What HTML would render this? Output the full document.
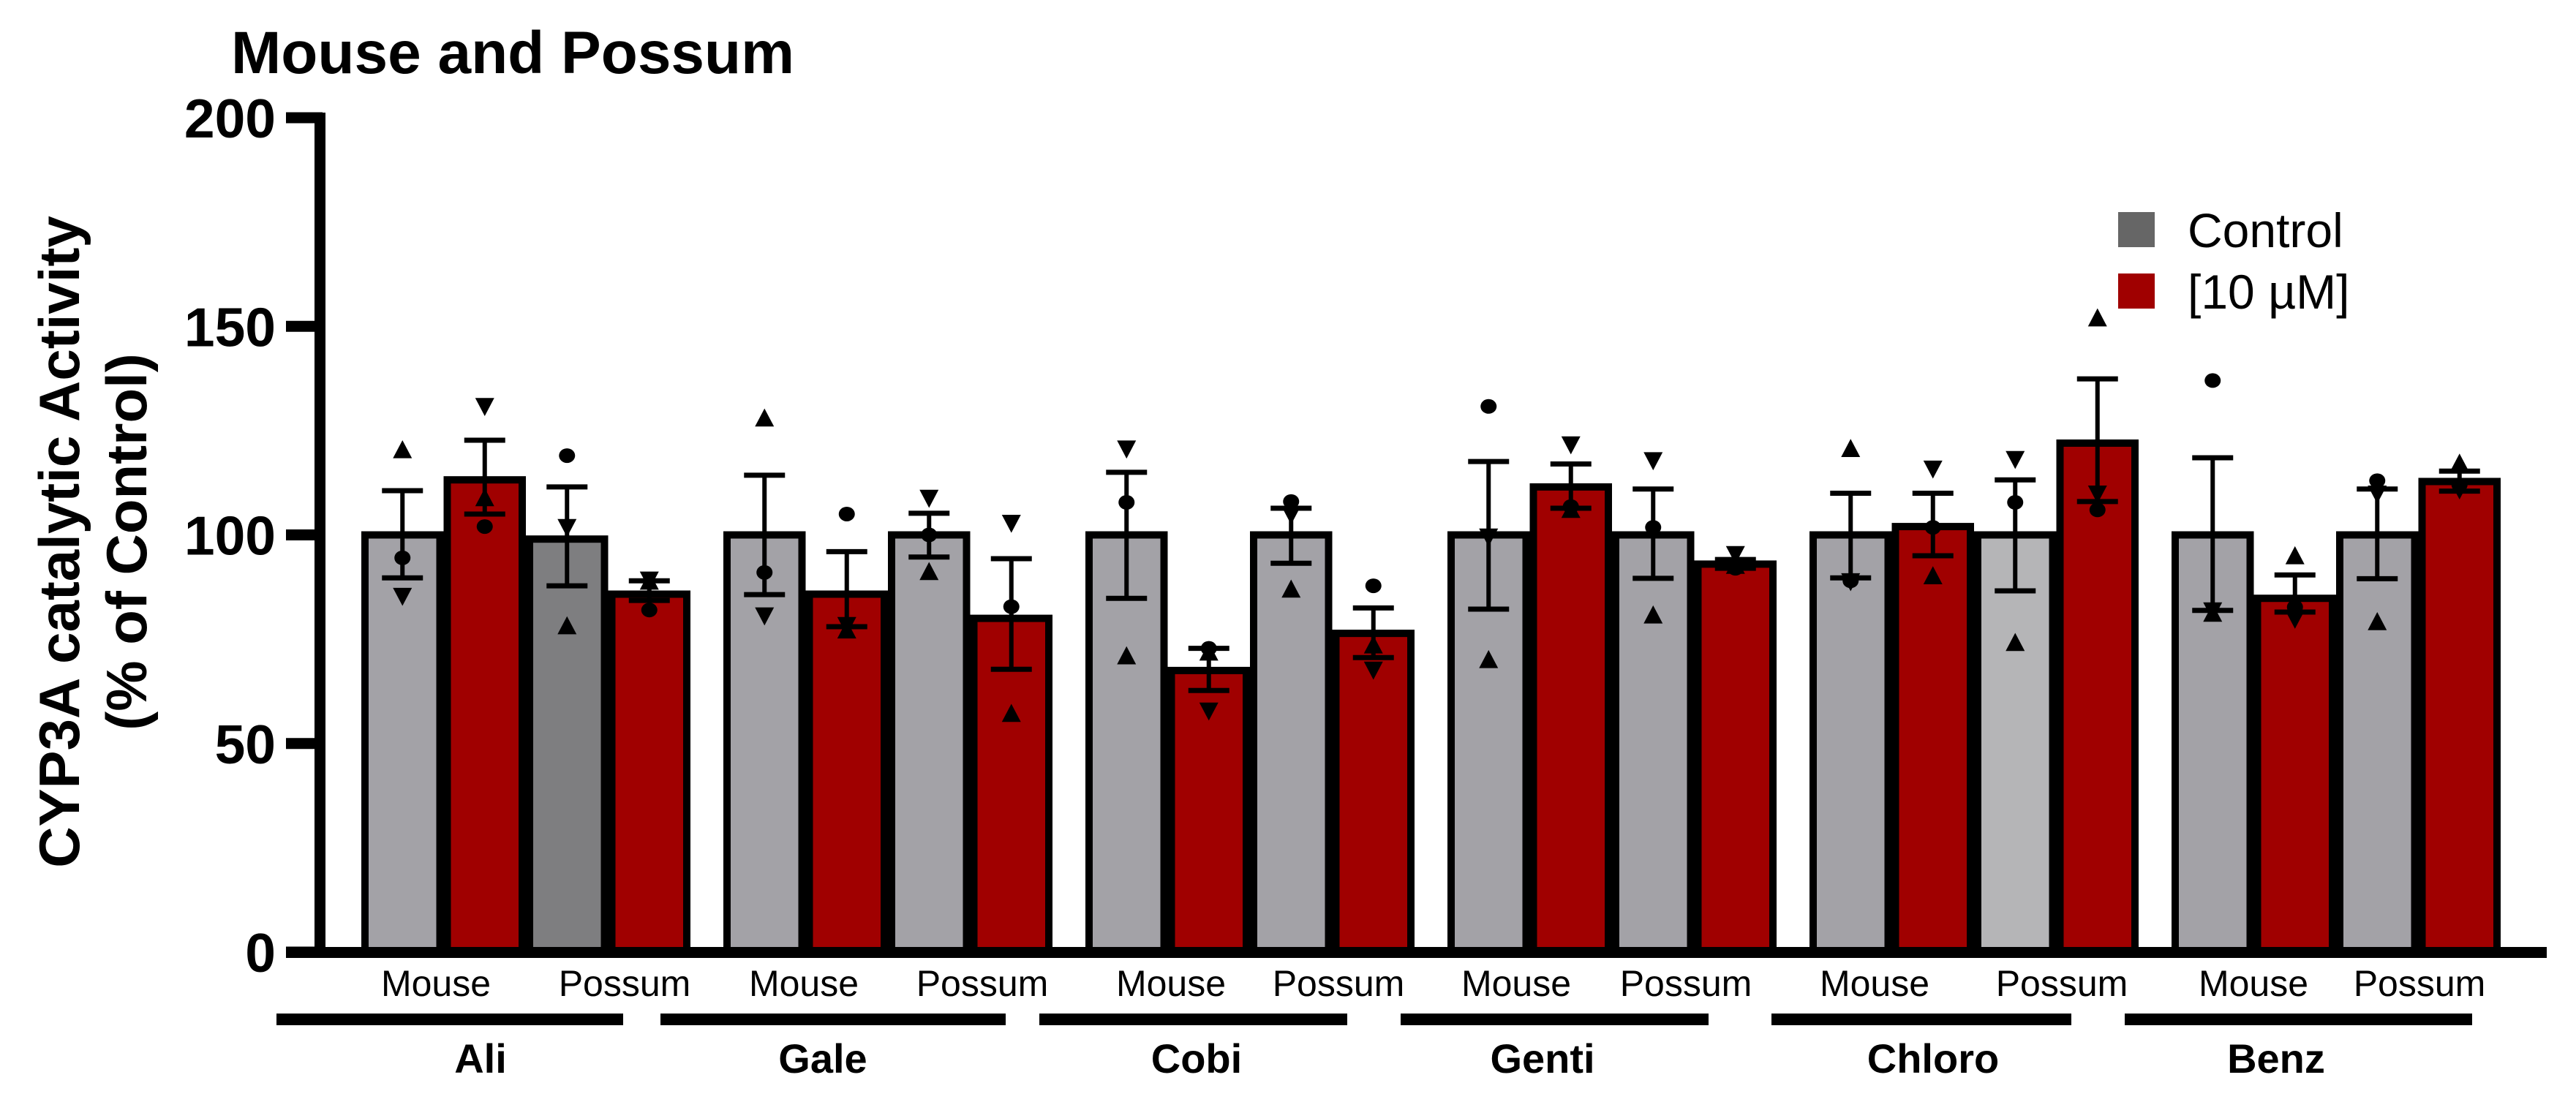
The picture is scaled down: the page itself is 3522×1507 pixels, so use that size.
<!DOCTYPE html>
<html><head><meta charset="utf-8">
<style>
html,body{margin:0;padding:0;background:#fff;}
svg{display:block;font-family:"Liberation Sans",Arial,sans-serif;}
</style></head>
<body>
<svg id="chart" width="3522" height="1507" viewBox="0 0 3522 1507" xmlns="http://www.w3.org/2000/svg">
<text x="316" y="100" font-size="82" font-weight="bold">Mouse and Possum</text>
<g font-weight="bold" font-size="78" text-anchor="middle">
<text transform="translate(108,741) rotate(-90)">CYP3A catalytic Activity</text>
<text transform="translate(200,741) rotate(-90)">(% of Control)</text>
</g>
<g id="yaxis"></g>
<g id="bars"></g>
<g id="xaxis"></g>
<g>
<g>
<rect x="2896" y="290" width="50" height="48" fill="#666666"/>
<text x="2991" y="338" font-size="66">Control</text></g>
<g>
<rect x="2896" y="374" width="50" height="48" fill="#a00000"/>
<text x="2991" y="422" font-size="66">[10 µM]</text></g>
</g>
</svg>
<script>
const groups = ["Ali","Gale","Cobi","Genti","Chloro","Benz"];
const subLabels = ["Mouse","Possum"];
const yTicks = [0,50,100,150,200];
// per bar order in group: Mouse-Control, Mouse-10uM, Possum-Control, Possum-10uM
const means = [
 [100,113.2,99,85.8],
 [100,85.8,100,80],
 [100,67.5,100,76.4],
 [100,111.5,100,93],
 [100,102,100,122],
 [100,84.8,100,112.8]];
const semHi = [
 [110.6,122.7,111.5,89],
 [114.3,96,105.2,94.3],
 [115,72.8,106.4,82.5],
 [117.6,117,111,94.1],
 [110,110,113.2,137.4],
 [118.5,90.4,111,115.3]];
const semLo = [
 [89.7,105,87.8,84.3],
 [85.7,78,94.7,67.8],
 [84.8,62.7,93.2,70.6],
 [82.2,106.4,89.6,92],
 [89.7,95,86.6,108],
 [81.9,81.5,89.5,110.5]];
const ptsUp = [
 [120.2,108.7,78,88.7],
 [127.8,77,91,57],
 [70.8,71.7,86.8,73.4],
 [69.9,105.9,80.6,92.5],
 [120.5,90,74,151.8],
 [81,94.8,79,117]];
const ptsCircle = [
 [94.5,102,119,82],
 [91,105,100,82.8],
 [107.8,72.8,108,87.8],
 [130.8,106.8,101.8,92],
 [89,101.8,107.8,106],
 [137,82.7,113,112]];
const ptsDown = [
 [85.5,131,102,89.4],
 [80.8,78.5,109,103],
 [120.8,58,105,67.8],
 [99.7,121.8,118,95.5],
 [89,116,118.3,110],
 [82,80,110,111]];
// layout (not data): fills per species row, label & bracket placement
const ctrlFill = [
 ["#a3a2a7","#a3a2a7","#a3a2a7","#a3a2a7","#a3a2a7","#a3a2a7"],
 ["#7e7e80","#a3a2a7","#a3a2a7","#a3a2a7","#b5b5b7","#a3a2a7"]];
const LAYOUT_mouseLabelX = [596,1099,1601,2073,2563,3081];
const LAYOUT_possumLabelX = [854,1343,1830,2305,2819,3308];
const LAYOUT_bracketL = [378,903,1421,1915,2422,2905];
const LAYOUT_bracketR = [852,1375,1842,2336,2832,3380];
const LAYOUT_groupLabelX = [657,1125,1636,2109,2643,3112];

const NS="http://www.w3.org/2000/svg";
const Y0=1302, PX=5.705, X0=494, PITCH=495, BW=112.5;
function y(v){return Y0-v*PX;}
function xb(g,i){return X0+g*PITCH+i*BW;}
function mk(tag,attrs,parent){const e=document.createElementNS(NS,tag);for(const k in attrs)e.setAttribute(k,attrs[k]);parent.appendChild(e);return e;}

const ya=document.getElementById('yaxis');
const bars=document.getElementById('bars');
const xa=document.getElementById('xaxis');

let l=mk('rect',{x:430,y:154,width:15,height:1156,fill:'#000'},ya);


yTicks.forEach(t=>{
  const tk=mk('rect',{x:391,y:y(t)-7.5,width:50,height:15,fill:'#000'},ya);
  
  
  const tx=mk('text',{x:377,y:y(t)+27,'font-size':75,'font-weight':'bold','text-anchor':'end'},ya);
  tx.textContent=t;
  
  
});

function tri(cx,cy,up,p){
  const s=13;
  const d=up?`M${cx-s},${cy+s*0.8} L${cx+s},${cy+s*0.8} L${cx},${cy-s*1.1} Z`:`M${cx-s},${cy-s*0.8} L${cx+s},${cy-s*0.8} L${cx},${cy+s*1.1} Z`;
  return mk('path',{d:d,fill:'#000'},p);
}

groups.forEach((gname,g)=>{
  for(let i=0;i<4;i++){
    const v=means[g][i];
    const left=xb(g,i);
    const isCtrl=(i%2===0);
    const fill=isCtrl?ctrlFill[i/2][g]:'#a00000';
    const r=mk('rect',{x:left+5,y:y(v),width:BW-10,height:Y0-y(v),fill:fill,stroke:'#000','stroke-width':10},bars);
    
    
    const cx=left+BW/2;
    const eb=mk('g',{},bars);
    
    
    mk('line',{x1:cx,x2:cx,y1:y(semHi[g][i]),y2:y(semLo[g][i]),stroke:'#000','stroke-width':6},eb);
    mk('line',{x1:cx-28,x2:cx+28,y1:y(semHi[g][i]),y2:y(semHi[g][i]),stroke:'#000','stroke-width':7},eb);
    mk('line',{x1:cx-28,x2:cx+28,y1:y(semLo[g][i]),y2:y(semLo[g][i]),stroke:'#000','stroke-width':7},eb);
    const p1=tri(cx,y(ptsUp[g][i]),true,bars);
    
    
    const p2=tri(cx,y(ptsDown[g][i]),false,bars);
    
    
    const p3=mk('ellipse',{cx:cx,cy:y(ptsCircle[g][i]),rx:11,ry:10,fill:'#000'},bars);
    
    
  }
  const lx=[LAYOUT_mouseLabelX[g],LAYOUT_possumLabelX[g]];
  subLabels.forEach((s,k)=>{
    const t=mk('text',{x:lx[k],y:1362,'font-size':50,'text-anchor':'middle'},xa);
    t.textContent=s;
    
    
  });
  const ln=mk('rect',{x:LAYOUT_bracketL[g],y:1386,width:LAYOUT_bracketR[g]-LAYOUT_bracketL[g],height:16,fill:'#000'},xa);
  
  
  const gt=mk('text',{x:LAYOUT_groupLabelX[g],y:1467,'font-size':56,'font-weight':'bold','text-anchor':'middle'},xa);
  gt.textContent=gname;
  
  
});
const xl=mk('rect',{x:391,y:1295,width:3091,height:15,fill:'#000'},xa);


</script>
</body></html>
